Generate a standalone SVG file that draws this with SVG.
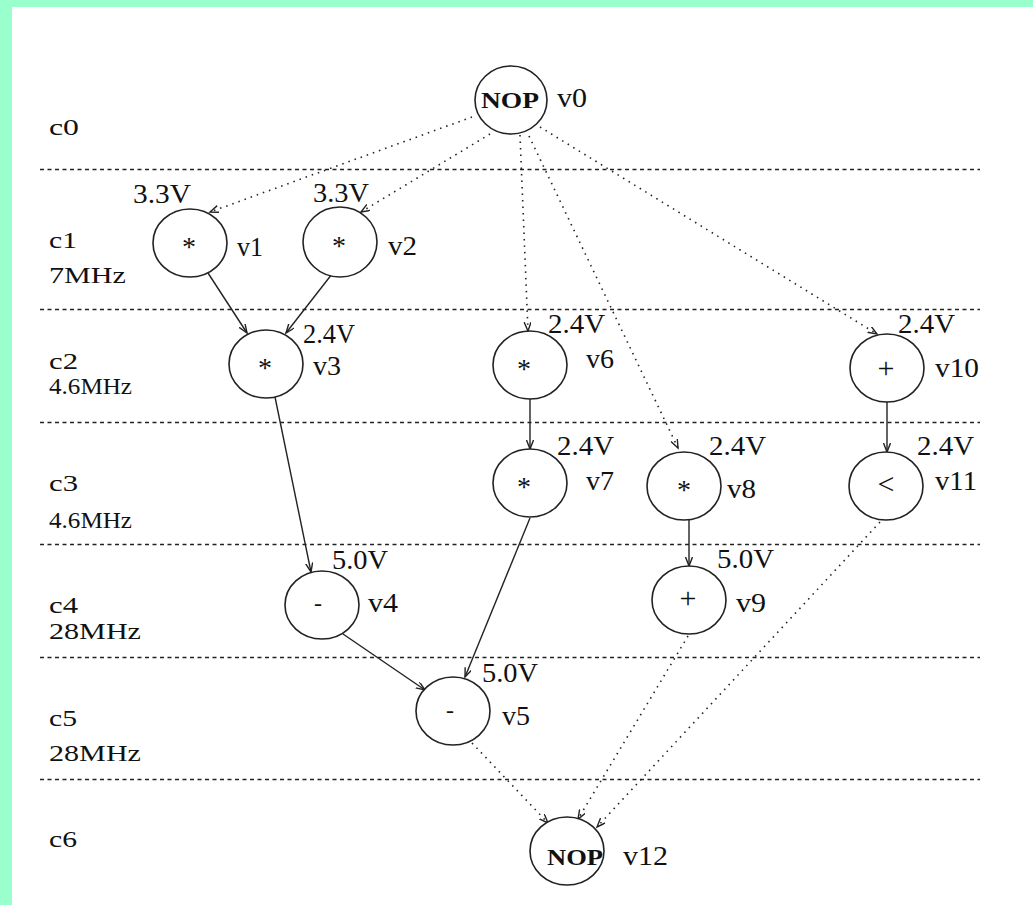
<svg xmlns="http://www.w3.org/2000/svg" width="1033" height="905" viewBox="0 0 1033 905">
  <style>
    .lane { stroke: #222; stroke-width: 1.4; stroke-dasharray: 4 3.5; fill: none; }
    .node { fill: #fff; stroke: #222; stroke-width: 1.6; }
    .t { font-family: "Liberation Serif", "Times New Roman", serif; fill: #111; }
    .cyc { font-size: 23px; }
    .lbl { font-size: 27px; }
    .op { text-anchor: middle; }
    .star { font-size: 28px; text-anchor: middle; }
    .nop { font-size: 24px; font-weight: bold; text-anchor: middle; }
    .solid { stroke: #222; stroke-width: 1.4; fill: none; marker-end: url(#arrow); }
    .dot { stroke: #222; stroke-width: 1.6; fill: none; stroke-dasharray: 1.5 5; marker-end: url(#arrow); }
  </style>
  <defs>
    <marker id="arrow" markerUnits="userSpaceOnUse" markerWidth="12" markerHeight="10" refX="9" refY="3.5" orient="auto">
      <path d="M0,0 L9,3.5 L0,7" fill="none" stroke="#222" stroke-width="1.4"/>
    </marker>
  </defs>

  <!-- page frame -->
  <rect x="0" y="0" width="1033" height="905" fill="#99FFCC"/>
  <rect x="12" y="7" width="1021" height="898" fill="#fff"/>

  <!-- control-step boundaries -->
  <g id="lanes">
    <line class="lane" x1="40" y1="169.5" x2="980" y2="169.5"/>
    <line class="lane" x1="40" y1="309.5" x2="980" y2="309.5"/>
    <line class="lane" x1="40" y1="422.5" x2="980" y2="422.5"/>
    <line class="lane" x1="40" y1="544.5" x2="980" y2="544.5"/>
    <line class="lane" x1="40" y1="657.5" x2="980" y2="657.5"/>
    <line class="lane" x1="40" y1="779.5" x2="980" y2="779.5"/>
  </g>

  <!-- step names and clock rates -->
  <g id="steps" class="t cyc">
    <text x="49" y="135" textLength="30" lengthAdjust="spacingAndGlyphs">c0</text>
    <text x="49" y="248" textLength="28" lengthAdjust="spacingAndGlyphs">c1</text>
    <text x="49" y="283" textLength="77" lengthAdjust="spacingAndGlyphs">7MHz</text>
    <text x="49" y="369" textLength="29" lengthAdjust="spacingAndGlyphs">c2</text>
    <text x="49" y="394" textLength="83" lengthAdjust="spacingAndGlyphs">4.6MHz</text>
    <text x="49" y="491" textLength="29" lengthAdjust="spacingAndGlyphs">c3</text>
    <text x="49" y="528" textLength="83" lengthAdjust="spacingAndGlyphs">4.6MHz</text>
    <text x="49" y="613" textLength="29" lengthAdjust="spacingAndGlyphs">c4</text>
    <text x="49" y="639" textLength="92" lengthAdjust="spacingAndGlyphs">28MHz</text>
    <text x="49" y="726" textLength="28" lengthAdjust="spacingAndGlyphs">c5</text>
    <text x="49" y="761" textLength="92" lengthAdjust="spacingAndGlyphs">28MHz</text>
    <text x="49" y="847" textLength="28" lengthAdjust="spacingAndGlyphs">c6</text>
  </g>

  <!-- dependencies -->
  <g id="edges">
    <line class="dot" x1="472" y1="117" x2="210" y2="212"/>
    <line class="dot" x1="490" y1="134" x2="361" y2="212"/>
    <line class="dot" x1="520" y1="135" x2="528" y2="331"/>
    <line class="dot" x1="529" y1="136" x2="678" y2="448"/>
    <line class="dot" x1="540" y1="127" x2="877" y2="334"/>
    <line class="solid" x1="208" y1="273" x2="247" y2="333"/>
    <line class="solid" x1="332" y1="274" x2="286" y2="333"/>
    <line class="solid" x1="275" y1="397" x2="311" y2="572"/>
    <line class="solid" x1="530" y1="399" x2="530" y2="449"/>
    <line class="solid" x1="530" y1="518" x2="465" y2="677"/>
    <line class="solid" x1="343" y1="634" x2="425" y2="690"/>
    <line class="solid" x1="689" y1="520" x2="689" y2="566"/>
    <line class="solid" x1="887" y1="402" x2="887" y2="452"/>
    <line class="dot" x1="472" y1="743" x2="548" y2="823"/>
    <line class="dot" x1="688" y1="636" x2="578" y2="819"/>
    <line class="dot" x1="880" y1="522" x2="597" y2="827"/>
  </g>

  <g id="v0">
    <ellipse class="node" cx="511" cy="100" rx="36" ry="34"/>
    <text class="t nop" x="510" y="108" textLength="58" lengthAdjust="spacingAndGlyphs">NOP</text>
    <text class="t lbl" x="557" y="107" textLength="30" lengthAdjust="spacingAndGlyphs">v0</text>
  </g>
  <g id="v1">
    <ellipse class="node" cx="190" cy="243" rx="37" ry="34"/>
    <text class="t star" x="189" y="256">*</text>
    <text class="t lbl" x="237" y="256" textLength="26" lengthAdjust="spacingAndGlyphs">v1</text>
    <text class="t lbl" x="133" y="203" textLength="58" lengthAdjust="spacingAndGlyphs">3.3V</text>
  </g>
  <g id="v2">
    <ellipse class="node" cx="340" cy="242" rx="37" ry="35"/>
    <text class="t star" x="339" y="255">*</text>
    <text class="t lbl" x="388" y="255" textLength="29" lengthAdjust="spacingAndGlyphs">v2</text>
    <text class="t lbl" x="313" y="202" textLength="56" lengthAdjust="spacingAndGlyphs">3.3V</text>
  </g>
  <g id="v3">
    <ellipse class="node" cx="266" cy="364" rx="37" ry="34"/>
    <text class="t star" x="265" y="377">*</text>
    <text class="t lbl" x="313" y="375" textLength="28" lengthAdjust="spacingAndGlyphs">v3</text>
    <text class="t lbl" x="303" y="343" textLength="52" lengthAdjust="spacingAndGlyphs">2.4V</text>
  </g>
  <g id="v6">
    <ellipse class="node" cx="530" cy="365" rx="37" ry="34"/>
    <text class="t star" x="524" y="378">*</text>
    <text class="t lbl" x="586" y="368" textLength="28" lengthAdjust="spacingAndGlyphs">v6</text>
    <text class="t lbl" x="548" y="333" textLength="57" lengthAdjust="spacingAndGlyphs">2.4V</text>
  </g>
  <g id="v7">
    <ellipse class="node" cx="530" cy="483" rx="37" ry="34"/>
    <text class="t star" x="524" y="496">*</text>
    <text class="t lbl" x="586" y="490" textLength="28" lengthAdjust="spacingAndGlyphs">v7</text>
    <text class="t lbl" x="557" y="455" textLength="57" lengthAdjust="spacingAndGlyphs">2.4V</text>
  </g>
  <g id="v8">
    <ellipse class="node" cx="684" cy="486" rx="37" ry="34"/>
    <text class="t star" x="684" y="499">*</text>
    <text class="t lbl" x="727" y="498" textLength="29" lengthAdjust="spacingAndGlyphs">v8</text>
    <text class="t lbl" x="709" y="455" textLength="57" lengthAdjust="spacingAndGlyphs">2.4V</text>
  </g>
  <g id="v10">
    <ellipse class="node" cx="887" cy="368" rx="37" ry="34"/>
    <text class="t op" x="886" y="378" font-size="30">+</text>
    <text class="t lbl" x="935" y="377" textLength="44" lengthAdjust="spacingAndGlyphs">v10</text>
    <text class="t lbl" x="898" y="333" textLength="57" lengthAdjust="spacingAndGlyphs">2.4V</text>
  </g>
  <g id="v11">
    <ellipse class="node" cx="886" cy="486" rx="37" ry="34"/>
    <text class="t op" x="886" y="494" font-size="30">&lt;</text>
    <text class="t lbl" x="935" y="490" textLength="42" lengthAdjust="spacingAndGlyphs">v11</text>
    <text class="t lbl" x="917" y="455" textLength="57" lengthAdjust="spacingAndGlyphs">2.4V</text>
  </g>
  <g id="v4">
    <ellipse class="node" cx="322" cy="605" rx="37" ry="34"/>
    <text class="t op" x="318" y="611" font-size="24">-</text>
    <text class="t lbl" x="368" y="612" textLength="30" lengthAdjust="spacingAndGlyphs">v4</text>
    <text class="t lbl" x="332" y="569" textLength="56" lengthAdjust="spacingAndGlyphs">5.0V</text>
  </g>
  <g id="v9">
    <ellipse class="node" cx="689" cy="600" rx="37" ry="34"/>
    <text class="t op" x="688" y="608" font-size="30">+</text>
    <text class="t lbl" x="736" y="612" textLength="30" lengthAdjust="spacingAndGlyphs">v9</text>
    <text class="t lbl" x="717" y="568" textLength="57" lengthAdjust="spacingAndGlyphs">5.0V</text>
  </g>
  <g id="v5">
    <ellipse class="node" cx="453" cy="711" rx="37" ry="34"/>
    <text class="t op" x="450" y="718" font-size="24">-</text>
    <text class="t lbl" x="502" y="725" textLength="28" lengthAdjust="spacingAndGlyphs">v5</text>
    <text class="t lbl" x="482" y="682" textLength="56" lengthAdjust="spacingAndGlyphs">5.0V</text>
  </g>
  <g id="v12">
    <ellipse class="node" cx="567" cy="851" rx="37" ry="34"/>
    <text class="t nop" x="575" y="865" textLength="56" lengthAdjust="spacingAndGlyphs">NOP</text>
    <text class="t lbl" x="623" y="865" textLength="45" lengthAdjust="spacingAndGlyphs">v12</text>
  </g>
</svg>
